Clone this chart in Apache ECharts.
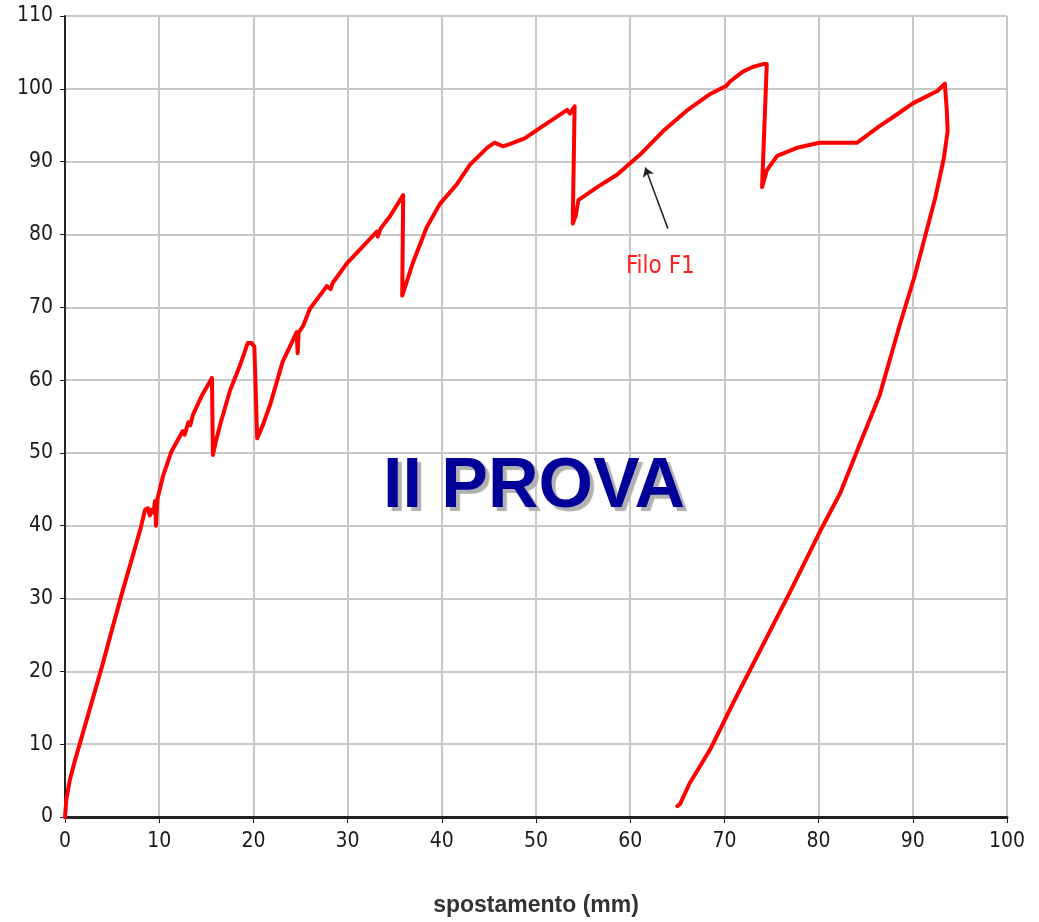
<!DOCTYPE html>
<html>
<head>
<meta charset="utf-8">
<script src="https://cdn.jsdelivr.net/npm/echarts@6/dist/echarts.min.js"></script>
<style>
  html, body { margin: 0; padding: 0; background: #fff; }
  #chart { width: 1039px; height: 922px; }
</style>
</head>
<body>
<div id="chart"></div>
<script>
// spostamento (mm)
const spostamento = [
  0, 0.15, 0.5, 1, 2, 3, 4, 5, 6, 7, 8, 8.5, 8.8, 9, 9.2, 9.4, 9.55, 9.66, 9.8,
  10.4, 11.3, 12.5, 12.7, 13.1, 13.3, 13.6, 14.5, 15.6, 15.7, 16, 16.5, 17.5, 18.6,
  19.4, 19.8, 20.1, 20.4, 21, 21.8, 23.1, 24.6, 24.7, 24.8, 25.3, 26, 27.8, 28.2,
  28.4, 29.9, 31.5, 33.1, 33.2, 33.5, 34.5, 35.9, 35.8, 36.9, 38.4, 39.8, 41.6, 43,
  44.8, 45.6, 46.5, 47.2, 48.8, 50.4, 51.2, 53.3, 53.6, 54.1, 53.9, 54.2, 54.5, 56.5,
  58.6, 61, 63.5, 66, 68.5, 70.2, 70.6, 72, 73, 74.1, 74.5, 74, 74.5, 75.6, 77.7,
  80.1, 82.3, 84.1, 86.5, 88, 90, 92.6, 93.4, 93.6, 93.7,
  // scarico
  93.3, 92.4, 90.2, 88.6, 86.5, 84.4, 82.3, 80.1, 77, 73.8, 71.1, 68.5, 66.3, 65.3, 65
];
// carico
const carico = [
  0, 2.5, 5, 7.5, 12, 16.5, 21, 25.8, 30.5, 35, 39.5, 42.2, 42.4, 41.4, 42.2, 41.8, 43.4, 40, 43.6,
  46.8, 50.2, 53, 52.5, 54.2, 53.8, 55.3, 57.8, 60.3, 49.7, 51.5, 54, 58.5, 62.1,
  65.1, 65.1, 64.6, 52, 53.8, 56.7, 62.5, 66.6, 63.7, 66.5, 67.5, 69.8, 72.9, 72.5,
  73.3, 76, 78.2, 80.4, 79.7, 80.8, 82.5, 85.4, 71.6, 76, 81, 84.2, 86.9, 89.6,
  91.9, 92.6, 92.1, 92.4, 93.2, 94.6, 95.3, 97.1, 96.6, 97.6, 81.5, 82.5, 84.7, 86.5,
  88.2, 90.9, 94.2, 97, 99.3, 100.4, 101, 102.4, 103, 103.4, 103.4, 86.5, 88.8, 90.8, 91.9,
  92.6, 92.6, 92.6, 94.9, 96.2, 98, 99.7, 100.7, 97.3, 94.2,
  90.5, 85.1, 74.3, 67.5, 58, 51.3, 44.5, 39.1, 31, 22.9, 16.1, 9.3, 4.6, 1.8, 1.5
];
// freccia "Filo F1": [coda, punta]
const frecciaFilo = [[64.0, 80.8], [61.6, 89.2]];
const etichettaFilo = [63.2, 75.6];

const xTicks = { min: 0, max: 100, interval: 10 };
const yTicks = { min: 0, max: 110, interval: 10 };

const chart = echarts.init(document.getElementById("chart"));
const narrow = "'Liberation Sans Narrow', 'DejaVu Sans Condensed', 'Liberation Sans', Arial, sans-serif";

const option = {
  animation: false,
  backgroundColor: "#fff",
  title: {
    text: "II PROVA",
    left: 378,
    top: 448,
    textStyle: {
      color: "#000099",
      fontFamily: "'Liberation Sans', Arial, sans-serif",
      fontWeight: "bold",
      fontSize: 70,
      textShadowColor: "#b0b0b0",
      textShadowOffsetX: 4,
      textShadowOffsetY: 4,
      textShadowBlur: 1
    }
  },
  grid: { left: 65, right: 32, top: 16, bottom: 93, containLabel: false },
  xAxis: {
    type: "value",
    min: xTicks.min,
    max: xTicks.max,
    interval: xTicks.interval,
    name: "spostamento (mm)",
    nameLocation: "middle",
    nameGap: 77,
    nameTextStyle: {
      color: "#333",
      fontFamily: "'Liberation Sans', Arial, sans-serif",
      fontWeight: "bold",
      fontSize: 23
    },
    axisLine: { show: true, onZero: false, lineStyle: { color: "#222", width: 3 } },
    axisTick: { show: true, length: 6, lineStyle: { color: "#222", width: 1 } },
    axisLabel: { color: "#1a1a1a", fontFamily: narrow, fontSize: 21, margin: 14 },
    splitLine: { show: true, lineStyle: { color: "#c8c8c8", width: 2 } }
  },
  yAxis: {
    type: "value",
    min: yTicks.min,
    max: yTicks.max,
    interval: yTicks.interval,
    axisLine: { show: true, onZero: false, lineStyle: { color: "#222", width: 2 } },
    axisTick: { show: true, length: 5, lineStyle: { color: "#222", width: 1 } },
    axisLabel: { color: "#1a1a1a", fontFamily: narrow, fontSize: 21, margin: 12 },
    splitLine: { show: true, lineStyle: { color: "#c8c8c8", width: 2 } }
  },
  series: [
    {
      type: "line",
      data: spostamento.map((x, i) => [x, carico[i]]),
      showSymbol: false,
      smooth: false,
      lineStyle: { color: "#ff0000", width: 4, cap: "round", join: "round" },
      markLine: {
        silent: true,
        symbol: ["none", "arrow"],
        symbolSize: 9,
        label: { show: false },
        lineStyle: { color: "#222", width: 1.5, type: "solid" },
        data: [[{ coord: frecciaFilo[0] }, { coord: frecciaFilo[1] }]]
      },
      markPoint: {
        silent: true,
        symbol: "circle",
        symbolSize: 0,
        label: {
          show: true,
          position: "inside",
          formatter: "Filo F1",
          color: "#ff2020",
          fontFamily: narrow,
          fontSize: 24
        },
        data: [{ coord: etichettaFilo }]
      }
    }
  ]
};

chart.setOption(option);
</script>
</body>
</html>
